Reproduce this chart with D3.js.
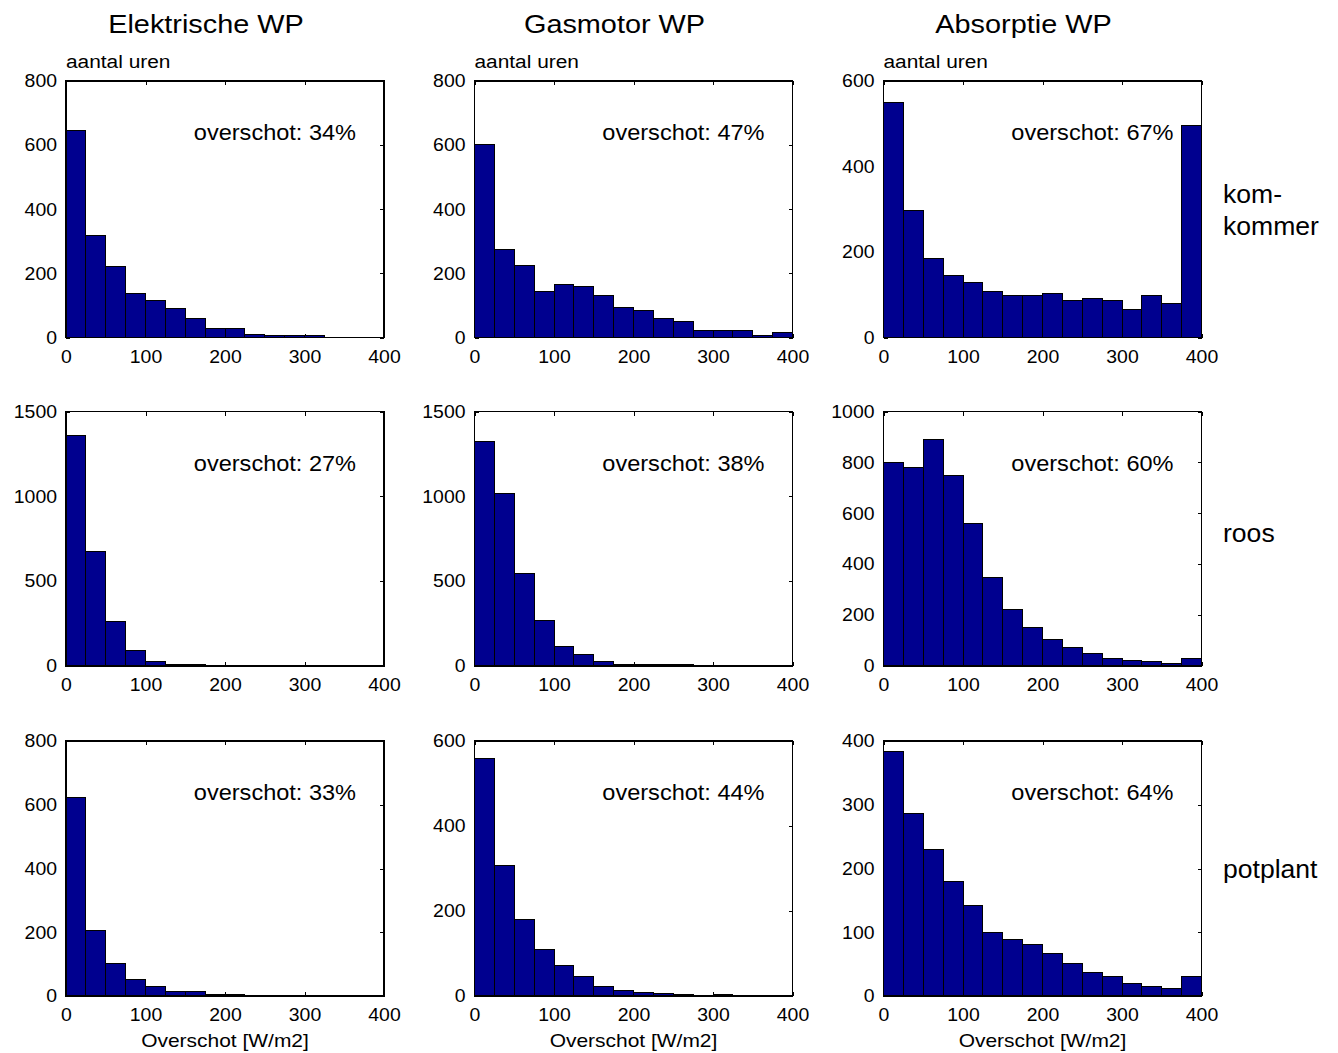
<!DOCTYPE html>
<html>
<head>
<meta charset="utf-8">
<script src="https://cdn.jsdelivr.net/npm/d3@7"></script>
<style>
  html, body { margin: 0; padding: 0; background: #ffffff; }
  svg { display: block; }
  text { font-family: "Liberation Sans", Arial, Helvetica, sans-serif; fill: #000; }
</style>
</head>
<body>
<svg id="chart" width="1338" height="1053"></svg>
<script>
// ---------------- DATA ----------------
const binEdges = [0, 25, 50, 75, 100, 125, 150, 175, 200, 225, 250, 275, 300, 325, 350, 375, 400];
const xTickValues = [0, 100, 200, 300, 400];

const columnTitles = ["Elektrische WP", "Gasmotor WP", "Absorptie WP"];
const rowLabels = [["kom-", "kommer"], ["roos"], ["potplant"]];
const yAxisTitle = "aantal uren";
const xAxisTitle = "Overschot [W/m2]";
const overschotLabel = "overschot: ";

// counts per 25 W/m2 bin (aantal uren)
const komkommerElektrisch = [646, 317, 220, 137, 115, 92, 60, 27, 27, 10, 5, 5, 5, 0, 0, 0];
const komkommerGasmotor   = [601, 274, 225, 143, 164, 159, 132, 93, 83, 60, 49, 22, 22, 22, 5, 17];
const komkommerAbsorptie  = [550, 296, 185, 144, 128, 107, 99, 99, 103, 87, 91, 87, 66, 99, 79, 496];
const roosElektrisch      = [1356, 674, 261, 94, 26, 10, 8, 0, 0, 0, 0, 0, 0, 0, 0, 0];
const roosGasmotor        = [1325, 1014, 543, 271, 114, 65, 26, 10, 8, 8, 6, 0, 0, 0, 0, 0];
const roosAbsorptie       = [801, 781, 891, 747, 561, 346, 223, 152, 106, 72, 50, 30, 22, 16, 8, 30];
const potplantElektrisch  = [624, 205, 101, 51, 29, 14, 14, 6, 5, 0, 0, 0, 0, 0, 0, 0];
const potplantGasmotor    = [558, 307, 179, 109, 71, 46, 22, 13, 9, 5, 4, 1, 3, 0, 0, 0];
const potplantAbsorptie   = [384, 287, 230, 180, 142, 100, 89, 81, 67, 51, 37, 31, 20, 15, 12, 31];

// overschot percentages per row (komkommer, roos, potplant) and column
const overschotKomkommer = [34, 47, 67];
const overschotRoos      = [27, 38, 60];
const overschotPotplant  = [33, 44, 64];

// y-axis tick labels per panel
const yTicksKomkommer = [[0, 200, 400, 600, 800], [0, 200, 400, 600, 800], [0, 200, 400, 600]];
const yTicksRoos      = [[0, 500, 1000, 1500], [0, 500, 1000, 1500], [0, 200, 400, 600, 800, 1000]];
const yTicksPotplant  = [[0, 200, 400, 600, 800], [0, 200, 400, 600], [0, 100, 200, 300, 400]];

// ---------------- LAYOUT ----------------
const panelData = [
  [komkommerElektrisch, komkommerGasmotor, komkommerAbsorptie],
  [roosElektrisch, roosGasmotor, roosAbsorptie],
  [potplantElektrisch, potplantGasmotor, potplantAbsorptie]
];
const overschot = [overschotKomkommer, overschotRoos, overschotPotplant];
const yTicks = [yTicksKomkommer, yTicksRoos, yTicksPotplant];

const colX = [66, 474.5, 883.5];
const panelW = 318;
const rowY = [81, 411.5, 741];
const rowH = [256.5, 254.5, 255];
const barColor = "#00008f";

const svg = d3.select("#chart");

function addText(parent, x, y, str, size, sx, anchor) {
  return parent.append("text")
    .attr("transform", `translate(${x},${y}) scale(${sx},1)`)
    .attr("font-size", size)
    .attr("text-anchor", anchor || "start")
    .text(str);
}

const tickSx = 1.08;
const tickFont = 18;
const fmt = d3.format("d");

for (let r = 0; r < 3; r++) {
  for (let c = 0; c < 3; c++) {
    const w = panelW, h = rowH[r];
    const ticks = yTicks[r][c];
    const ymax = ticks[ticks.length - 1];
    const g = svg.append("g").attr("transform", `translate(${colX[c]},${rowY[r]})`);
    const x = d3.scaleLinear().domain([0, 400]).range([0, w]);
    const y = d3.scaleLinear().domain([0, ymax]).range([h, 0]);

    // axes with inward ticks
    const left = g.append("g").call(
      d3.axisLeft(y).tickValues(ticks).tickFormat(fmt).tickSizeInner(-4).tickSizeOuter(0).tickPadding(9 / tickSx));
    const bottom = g.append("g").attr("transform", `translate(0,${h})`).call(
      d3.axisBottom(x).tickValues(xTickValues).tickFormat(fmt).tickSizeInner(-4).tickSizeOuter(0).tickPadding(12.5));
    const top = g.append("g").call(
      d3.axisTop(x).tickValues(xTickValues).tickSizeInner(-4).tickSizeOuter(0).tickFormat(""));
    const right = g.append("g").attr("transform", `translate(${w},0)`).call(
      d3.axisRight(y).tickValues(ticks).tickSizeInner(-4).tickSizeOuter(0).tickFormat(""));
    [left, bottom, top, right].forEach(a => {
      a.select(".domain").remove();
      a.attr("font-family", null).attr("font-size", null);
      a.selectAll(".tick line").attr("stroke", "#000").attr("stroke-width", 1).attr("shape-rendering", "crispEdges");
      a.selectAll(".tick text").attr("font-size", tickFont).attr("fill", "#000")
        .attr("transform", `scale(${tickSx},1)`);
    });

    // bars
    const vals = panelData[r][c];
    g.append("g").selectAll("rect").data(vals).join("rect")
      .attr("x", (d, i) => x(binEdges[i]))
      .attr("width", (d, i) => x(binEdges[i + 1]) - x(binEdges[i]))
      .attr("y", d => y(d))
      .attr("height", d => h - y(d))
      .attr("fill", barColor)
      .attr("stroke", "#000")
      .attr("stroke-width", 1)
      .attr("shape-rendering", "crispEdges");

    // frame
    g.append("rect").attr("x", 0).attr("y", 0).attr("width", w).attr("height", h)
      .attr("fill", "none").attr("stroke", "#000").attr("stroke-width", 1.2)
      .attr("shape-rendering", "crispEdges");

    // overschot annotation
    addText(g, w - 28, 59, overschotLabel + overschot[r][c] + "%", 22, 1.07, "end");

    if (r === 0) {
      addText(g, 0, -13.5, yAxisTitle, 18, 1.16, "start");
      addText(svg, colX[c] + w / 2 - 19, 33, columnTitles[c], 26, 1.11, "middle");
    }
    if (r === 2) {
      addText(g, w / 2, h + 51, xAxisTitle, 18, 1.165, "middle");
    }
  }
}

// row labels on the right
const rowLabelBaselines = [[203, 235], [542], [878]];
rowLabels.forEach((lines, r) => {
  lines.forEach((ln, k) => {
    addText(svg, 1223, rowLabelBaselines[r][k], ln, 25, 1.063, "start");
  });
});
</script>
</body>
</html>
